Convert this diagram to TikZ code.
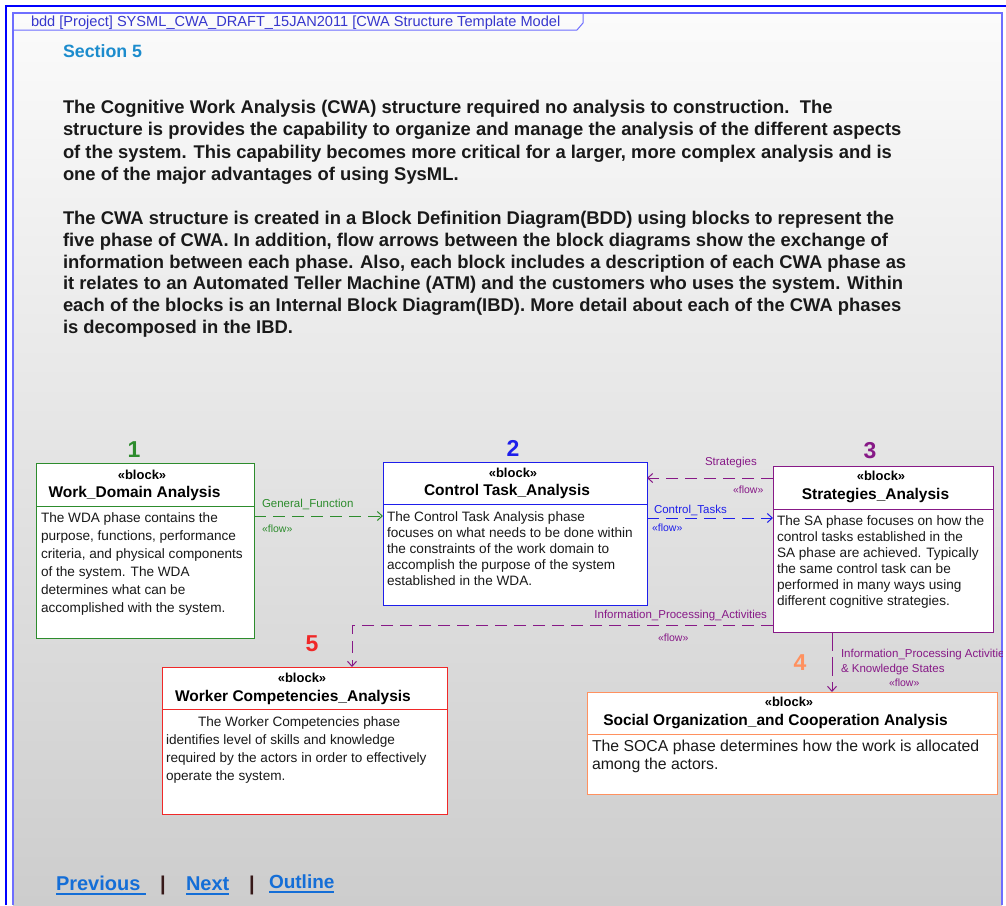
\documentclass[tikz,border=0pt]{standalone}
\usepackage{fontspec}
\setmainfont{Liberation Sans}
\usetikzlibrary{arrows.meta}

\definecolor{frameblue}{RGB}{0,0,255}
\definecolor{innerblue}{RGB}{110,110,255}
\definecolor{hdrblue}{RGB}{55,55,205}
\definecolor{secblue}{RGB}{28,140,205}
\definecolor{wdagreen}{RGB}{45,140,45}
\definecolor{ctablue}{RGB}{30,30,235}
\definecolor{sapurple}{RGB}{135,25,135}
\definecolor{socaorange}{RGB}{255,145,95}
\definecolor{wcared}{RGB}{240,40,40}
\definecolor{linkblue}{RGB}{20,110,215}
\definecolor{bodytext}{RGB}{25,25,25}
\definecolor{sepdark}{RGB}{55,25,25}
\definecolor{bgbottom}{RGB}{205,205,205}
\definecolor{bgtop}{RGB}{251,251,251}

% multi-line text whose baseline is that of its first line
\newcommand\blines[2]{\parbox[t]{1000pt}{\raggedright\baselineskip=#1pt #2}}

\tikzset{
  txt/.style={inner sep=0pt, outer sep=0pt, anchor=base west},
  ctr/.style={inner sep=0pt, outer sep=0pt, anchor=base},
  blockbox/.style={draw, fill=white, line width=1pt, rectangle, anchor=north west,
                   inner sep=0pt, outer sep=0pt},
  stereo/.style={ctr, font=\bfseries\fontsize{13}{15}\selectfont, text=black},
  title/.style={ctr, font=\bfseries\fontsize{15.5}{18}\selectfont, text=black},
  body/.style={txt, font=\fontsize{13.6}{16}\selectfont, text=bodytext},
  phasenum/.style={ctr, font=\bfseries\fontsize{23}{26}\selectfont},
  lbl/.style={txt, font=\fontsize{11.5}{14}\selectfont},
  flowlbl/.style={txt, font=\fontsize{10.5}{12}\selectfont},
  flowline/.style={line width=1pt, dash pattern=on 12pt off 7pt,
                   -{Straight Barb[length=5pt,width=9pt]}},
  link/.style={txt, font=\bfseries\fontsize{20}{24}\selectfont, text=linkblue},
  sepbar/.style={ctr, font=\bfseries\fontsize{20}{24}\selectfont, text=sepdark},
  intro/.style={txt, font=\bfseries\fontsize{18.4}{22}\selectfont, text=bodytext},
}

\begin{document}
\begin{tikzpicture}[x=1pt, y=-1pt]
\useasboundingbox (0,0) rectangle (1006,905);
\fill[white] (0,0) rectangle (1006,905);

% page background and frames
\shade[top color=bgtop, bottom color=bgbottom] (13,13) rectangle (1002,905);
\draw[frameblue, line width=2.5pt] (6,905) -- (6,6) -- (1006,6);
\draw[innerblue, line width=1.3pt] (13,905) -- (13,13) -- (1002,13) -- (1002,905);

% diagram frame tab
\draw[innerblue, line width=1pt] (13,30) -- (577,30) -- (583,23) -- (583,13);
\node[txt, font=\fontsize{14.6}{16}\selectfont, text=hdrblue] (hdr) at (31,26)
  {bdd [Project] SYSML\_CWA\_DRAFT\_15JAN2011 [CWA Structure Template Model};

\node[txt, font=\bfseries\fontsize{17.8}{20}\selectfont, text=secblue] (sec) at (63,57) {Section 5};

% introduction
\node[intro] (para1) at (63,113.4)
  {\blines{22.3}{The Cognitive Work Analysis (CWA) structure required no analysis to construction.\ \ The\\
   structure is provides the capability to organize and manage the analysis of the different aspects\\
   of the system. This capability becomes more critical for a larger, more complex analysis and is\\
   one of the major advantages of using SysML.}};
\node[intro] (para2) at (63,224.4)
  {\blines{21.8}{The CWA structure is created in a Block Definition Diagram(BDD) using blocks to represent the\\
   five phase of CWA. In addition, flow arrows between the block diagrams show the exchange of\\
   information between each phase. Also, each block includes a description of each CWA phase as\\
   it relates to an Automated Teller Machine (ATM) and the customers who uses the system. Within\\
   each of the blocks is an Internal Block Diagram(IBD). More detail about each of the CWA phases\\
   is decomposed in the IBD.}};

% ---- blocks ----
\node[blockbox, draw=wdagreen, minimum width=218pt, minimum height=175pt] (wda) at (36,463) {};
\draw[wdagreen, line width=1pt] (wda.west |- 0,506) -- (wda.east |- 0,506);
\node[phasenum, text=wdagreen] (n1) at (134,457) {1};
\node[stereo] (wdast) at (142,479) {«block»};
\node[title] (wdati) at (134.5,497) {Work\_Domain Analysis};
\node[body] (wdabody) at (41,522.8) {\blines{18}{The WDA phase contains the\\
  purpose, functions, performance\\ criteria, and physical components\\
  of the system. The WDA\\ determines what can be\\ accomplished with the system.}};

\node[blockbox, draw=ctablue, minimum width=264pt, minimum height=143pt] (cta) at (383,462) {};
\draw[ctablue, line width=1pt] (cta.west |- 0,504) -- (cta.east |- 0,504);
\node[phasenum, text=ctablue] (n2) at (513,456) {2};
\node[stereo] (ctast) at (513,477) {«block»};
\node[title] (ctati) at (507,495) {Control Task\_Analysis};
\node[body] (ctabody) at (387,521.8) {\blines{16}{The Control Task Analysis phase\\
  focuses on what needs to be done within\\ the constraints of the work domain to\\
  accomplish the purpose of the system\\ established in the WDA.}};

\node[blockbox, draw=sapurple, minimum width=220pt, minimum height=166pt] (sa) at (773,466) {};
\draw[sapurple, line width=1pt] (sa.west |- 0,509) -- (sa.east |- 0,509);
\node[phasenum, text=sapurple] (n3) at (870,458) {3};
\node[stereo] (sast) at (881,480) {«block»};
\node[title] (sati) at (875.5,499) {Strategies\_Analysis};
\node[body] (sabody) at (777,525.8) {\blines{16}{The SA phase focuses on how the\\
  control tasks established in the\\ SA phase are achieved. Typically\\
  the same control task can be\\ performed in many ways using\\ different cognitive strategies.}};

\node[blockbox, draw=socaorange, minimum width=410pt, minimum height=102pt] (soca) at (587,692) {};
\draw[socaorange, line width=1pt] (soca.west |- 0,734) -- (soca.east |- 0,734);
\node[phasenum, text=socaorange] (n4) at (800,670) {4};
\node[stereo] (socast) at (789,706) {«block»};
\node[title] (socati) at (775.5,725) {Social Organization\_and Cooperation Analysis};
\node[body, font=\fontsize{15.8}{18}\selectfont] (socabody) at (592,751.6)
  {\blines{17.5}{The SOCA phase determines how the work is allocated\\ among the actors.}};

\node[blockbox, draw=wcared, minimum width=285pt, minimum height=147pt] (wca) at (162,667) {};
\draw[wcared, line width=1pt] (wca.west |- 0,709) -- (wca.east |- 0,709);
\node[phasenum, text=wcared] (n5) at (312,651) {5};
\node[stereo] (wcast) at (302,682) {«block»};
\node[title] (wcati) at (293,701) {Worker Competencies\_Analysis};
\node[body] (wcabody) at (166,726.8) {\blines{18}{\hspace*{32pt}The Worker Competencies phase\\
  identifies level of skills and knowledge\\ required by the actors in order to effectively\\
  operate the system.}};

% ---- item flows ----
\draw[flowline, wdagreen] (wda.east |- 0,516) -- (cta.west |- 0,516);
\node[lbl, text=wdagreen] (gflbl) at (262,507) {General\_Function};
\node[flowlbl, text=wdagreen] (gfflow) at (262,532) {«flow»};

\draw[flowline, sapurple] (sa.west |- 0,478) -- (cta.east |- 0,478);
\node[lbl, text=sapurple] (stlbl) at (705,465) {Strategies};
\node[flowlbl, text=sapurple] (stflow) at (733,493) {«flow»};

\draw[flowline, ctablue] (cta.east |- 0,518) -- (sa.west |- 0,518);
\node[lbl, text=ctablue] (ctlbl) at (654,513) {Control\_Tasks};
\node[flowlbl, text=ctablue] (ctflow) at (652,531) {«flow»};

\draw[flowline, sapurple] (sa.west |- 0,625) -- (352,625) -- (wca.north -| 352,0);
\node[lbl, text=sapurple, anchor=base east] (iplbl) at (767,618) {Information\_Processing\_Activities};
\node[flowlbl, text=sapurple] (ipflow) at (658,641) {«flow»};

% this flow's label runs past the frame edge and is cut there
\begin{scope}
  \clip (13,13) rectangle (1002,905);
  \draw[flowline, sapurple, dash pattern=on 19pt off 6pt] (sa.south -| 832,0) -- (soca.north -| 832,0);
  \node[lbl, text=sapurple] (iklbl) at (841,657)
    {\blines{15}{Information\_Processing Activities\\ \& Knowledge States}};
  \node[flowlbl, text=sapurple] (ikflow) at (889,686) {«flow»};
\end{scope}

% ---- navigation ----
\node[link] (prev) at (56,890) {Previous};
\draw[linkblue, line width=2pt] ([yshift=-3.5pt]prev.base west) -- ([yshift=-3.5pt,xshift=6pt]prev.base east);
\node[sepbar] (bar1) at (163,890) {|};
\node[link] (next) at (186,890) {Next};
\draw[linkblue, line width=2pt] ([yshift=-3.5pt]next.base west) -- ([yshift=-3.5pt]next.base east);
\node[sepbar] (bar2) at (252,890) {|};
\node[link, font=\bfseries\fontsize{19}{22}\selectfont] (outl) at (269,888) {Outline};
\draw[linkblue, line width=2pt] ([yshift=-3.5pt]outl.base west) -- ([yshift=-3.5pt]outl.base east);
\end{tikzpicture}
\end{document}
